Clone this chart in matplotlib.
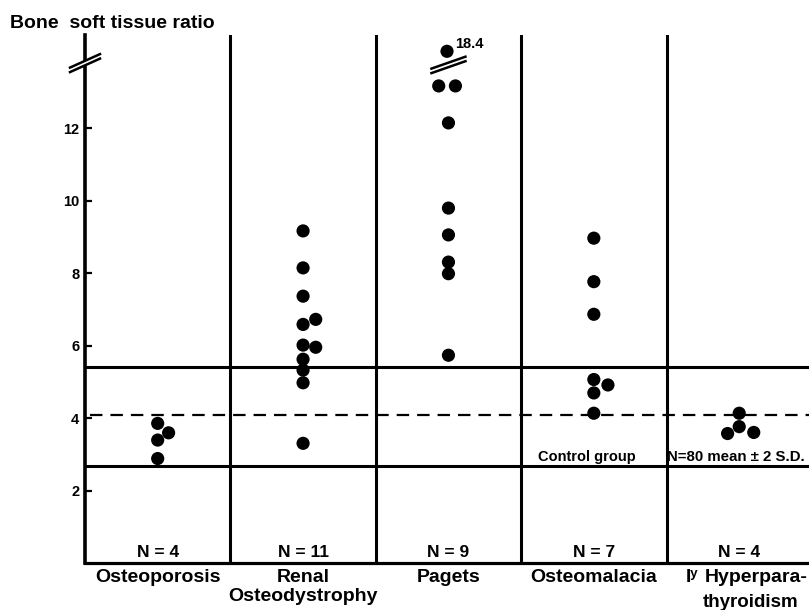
import numpy as np
import matplotlib
matplotlib.use("Agg")
import matplotlib.pyplot as plt
import matplotlib.transforms as mtrans
from matplotlib.lines import Line2D
from matplotlib.patches import Polygon

# ---------------- data ----------------
groups = ["Osteoporosis", "Renal\nOsteodystrophy", "Pagets", "Osteomalacia"]
hyper_label = ["Iʸ", "Hyperpara-", "thyroidism"]
n_labels = ["N = 4", "N = 11", "N = 9", "N = 7", "N = 4"]

osteoporosis = [3.86, 3.60, 3.40, 2.89]
osteoporosis_dx = [0.0, 0.075, 0.0, 0.0]
renal = [9.17, 8.15, 7.37, 6.59, 6.73, 6.02, 5.96, 5.63, 5.33, 4.98, 3.31]
renal_dx = [0, 0, 0, 0, 0.087, 0, 0.087, 0, 0, 0, 0]
pagets = [18.4, 13.17, 13.17, 12.15, 9.80, 9.06, 8.31, 7.99, 5.74]
pagets_dx = [-0.01, -0.067, 0.048, 0, 0, 0, 0, 0, 0]
osteomalacia = [8.97, 7.77, 6.87, 5.07, 4.92, 4.70, 4.14]
osteomalacia_dx = [0, 0, 0, 0, 0.097, 0, 0]
hyperpara = [4.14, 3.77, 3.58, 3.61]
hyperpara_dx = [0, 0, -0.08, 0.10]

control_mean = 4.09
control_upper = 5.41
control_lower = 2.68
yticks = [2, 4, 6, 8, 10, 12]

# broken y scale (values above the break are compressed)
BRK = 13.65
FAC = 0.1
def fwd(y):
    y = np.asarray(y, dtype=float)
    return np.where(y <= BRK, y, BRK + (y - BRK) * FAC)
def inv(t):
    t = np.asarray(t, dtype=float)
    return np.where(t <= BRK, t, BRK + (t - BRK) / FAC)

plt.rcParams['font.family'] = ['Liberation Sans', 'DejaVu Sans']
plt.rcParams['font.weight'] = 'bold'

fig = plt.figure(figsize=(8.09, 6.10), dpi=100)
ax = fig.add_axes([85/809, 46.7/610, (809-85)/809, (563.3-35)/610])
ax.set_yscale('function', functions=(fwd, inv))
ax.set_xlim(0, 4.98)
ax.set_ylim(0, float(inv(14.575)))

for s in ['top', 'right']:
    ax.spines[s].set_visible(False)
ax.spines['left'].set_linewidth(2.6)
ax.spines['bottom'].set_linewidth(2.3)

ax.set_yticks(yticks)
ax.set_yticklabels([str(v) for v in yticks], fontsize=10.5, fontweight='bold')
ax.tick_params(axis='y', direction='in', length=5, width=1.6, pad=4)
ax.set_xticks([])
ax.yaxis.set_minor_locator(matplotlib.ticker.NullLocator())

# dividers
for xd in [1, 2, 3, 4]:
    ax.axvline(xd, color='black', lw=2.2, zorder=2)

# control group lines
ax.axhline(control_upper, color='black', lw=2.2, zorder=2)
ax.axhline(control_lower, color='black', lw=2.2, zorder=2)
ax.axhline(control_mean, xmin=0.007, color='black', lw=1.6, dashes=(5.6, 3.6), zorder=2)

series = [(osteoporosis, osteoporosis_dx), (renal, renal_dx), (pagets, pagets_dx),
          (osteomalacia, osteomalacia_dx), (hyperpara, hyperpara_dx)]
for i, (vals, dx) in enumerate(series):
    xs = np.full(len(vals), i + 0.5) + np.array(dx)
    ax.scatter(xs, vals, s=90, color='black', edgecolors='none', zorder=4)

# 18.4 label
ax.annotate("18.4", xy=(2.5, pagets[0]), xytext=(5, 0), textcoords='offset points',
            fontsize=10.5, fontweight='bold', va='bottom', ha='left')

# N labels
for i, t in enumerate(n_labels):
    ax.text(i + 0.5, 0.17, t, ha='center', va='baseline', fontsize=12.5, fontweight='bold')

# category labels
bt = mtrans.blended_transform_factory(ax.transData, ax.transAxes)
for i, g in enumerate(groups):
    ax.text(i + 0.5, -0.010, g, transform=bt, ha='center', va='top', fontsize=14,
            fontweight='bold', linespacing=1.2)
ax.text(4.22, -0.010, hyper_label[0], transform=bt, ha='right', va='top', fontsize=14,
        fontweight='bold')
ax.text(4.265, -0.010, hyper_label[1], transform=bt, ha='left', va='top', fontsize=14,
        fontweight='bold')
ax.text(4.25, -0.058, hyper_label[2], transform=bt, ha='left', va='top', fontsize=13.5,
        fontweight='bold')

# control group annotations
ax.text(3.455, control_lower + 0.07, "Control group", ha='center', va='bottom',
        fontsize=10.5, fontweight='bold')
ax.text(4.005, control_lower + 0.07, "N=80 mean ± 2 S.D.", ha='left', va='bottom',
        fontsize=10.8, fontweight='bold')

# title
fig.text(10/809, 1 - 27.5/610, "Bone  soft tissue ratio", ha='left', va='baseline',
         fontsize=14, fontweight='bold')

# break marks (decorations)
fig.canvas.draw()
def break_mark(xd, yd, half=15, slope=0.45, gap=4.5):
    cx, cy = ax.transData.transform((xd, yd))
    pts1 = [(cx - half, cy - half * slope - gap/2), (cx + half, cy + half * slope - gap/2)]
    pts2 = [(cx - half, cy - half * slope + gap/2), (cx + half, cy + half * slope + gap/2)]
    inv_fig = fig.transFigure.inverted()
    poly = Polygon(inv_fig.transform(pts1 + pts2[::-1]), closed=True, facecolor='white',
                   edgecolor='none', transform=fig.transFigure, zorder=5)
    fig.add_artist(poly)
    for p in (pts1, pts2):
        q = inv_fig.transform(p)
        fig.add_artist(Line2D(q[:, 0], q[:, 1], color='black', lw=1.8,
                              transform=fig.transFigure, zorder=6))

break_mark(0.0, float(inv(13.8)))
break_mark(2.5, float(inv(13.75)), half=17, slope=0.35)

fig.savefig("out.png", dpi=100)
